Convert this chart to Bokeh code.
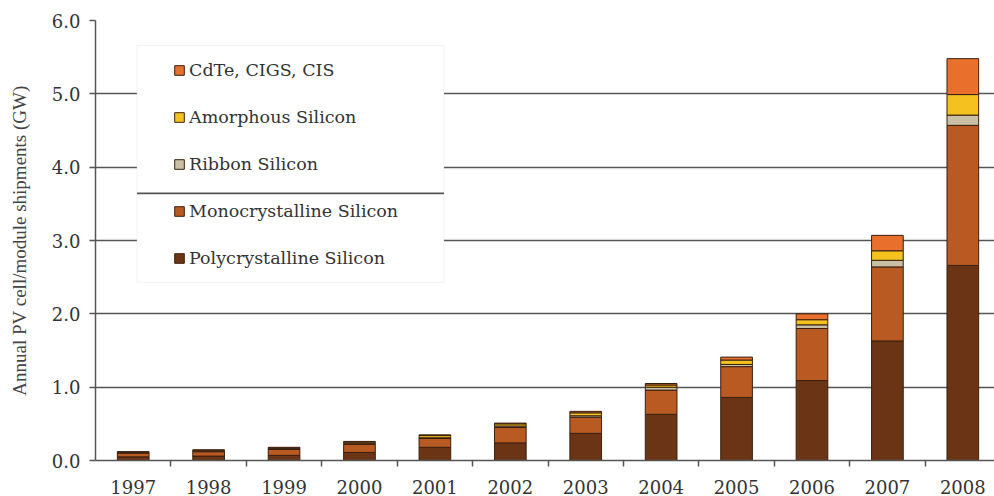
import numpy as np
from bokeh.plotting import figure
from bokeh.models import (ColumnDataSource, Range1d, FixedTicker, Legend, LegendItem,
                          BoxAnnotation, Grid)
from bokeh.embed import file_html
from bokeh.resources import INLINE

years = ["1997", "1998", "1999", "2000", "2001", "2002", "2003", "2004", "2005", "2006", "2007", "2008"]
poly = [0.05, 0.06, 0.07, 0.11, 0.18, 0.24, 0.37, 0.63, 0.86, 1.09, 1.63, 2.66]
mono = [0.05, 0.06, 0.08, 0.11, 0.12, 0.21, 0.22, 0.33, 0.42, 0.71, 1.01, 1.91]
ribbon = [0.005, 0.005, 0.01, 0.01, 0.01, 0.02, 0.02, 0.04, 0.03, 0.05, 0.09, 0.14]
amorphous = [0.01, 0.015, 0.01, 0.02, 0.03, 0.03, 0.04, 0.03, 0.06, 0.07, 0.13, 0.28]
cdte = [0.005, 0.005, 0.01, 0.01, 0.01, 0.01, 0.02, 0.02, 0.04, 0.08, 0.21, 0.49]

series = ["poly", "mono", "ribbon", "amorphous", "cdte"]
labels = {"poly": "Polycrystalline Silicon", "mono": "Monocrystalline Silicon",
          "ribbon": "Ribbon Silicon", "amorphous": "Amorphous Silicon",
          "cdte": "CdTe, CIGS, CIS"}
colors = ["#6B3414", "#B95A22", "#C9BFA4", "#F4C21E", "#E8702C"]

x = list(np.arange(len(years)) + 0.5)
src = ColumnDataSource(dict(x=x, poly=poly, mono=mono, ribbon=ribbon,
                            amorphous=amorphous, cdte=cdte))

FONT = "DejaVu Serif"

p = figure(width=994, height=496, output_backend="svg", toolbar_location=None,
           x_range=Range1d(0, 11.92), y_range=Range1d(0, 6.0),
           min_border_left=95, min_border_right=0, min_border_top=20, min_border_bottom=36)
p.outline_line_color = None
p.background_fill_color = "white"

renderers = p.vbar_stack(series, x="x", width=0.42, source=src, color=colors,
                         line_color="#3A2010", line_width=1)

# axes
p.yaxis.ticker = FixedTicker(ticks=[0, 1, 2, 3, 4, 5, 6])
p.yaxis.major_label_overrides = {i: f"{i}.0" for i in range(7)}
p.yaxis.minor_tick_line_color = None
p.yaxis.major_tick_in = 0
p.yaxis.major_tick_out = 6
p.yaxis.axis_line_color = "#555555"
p.yaxis.axis_line_width = 1.5
p.yaxis.major_tick_line_color = "#555555"
p.yaxis.major_tick_line_width = 1.5
p.yaxis.major_label_text_font = FONT
p.yaxis.major_label_text_font_size = "18px"
p.yaxis.major_label_text_color = "#333333"
p.yaxis.major_label_standoff = 9
p.yaxis.axis_label = "Annual PV cell/module shipments (GW)"
p.yaxis.axis_label_text_font = "Liberation Serif"
p.yaxis.axis_label_text_font_size = "19px"
p.yaxis.axis_label_text_font_style = "normal"
p.yaxis.axis_label_text_color = "#444444"
p.yaxis.axis_label_standoff = 19

p.xaxis.ticker = FixedTicker(ticks=x, minor_ticks=list(np.arange(1, len(years))))
p.xaxis.major_label_overrides = {xx: y for xx, y in zip(x, years)}
p.xaxis.major_tick_line_color = None
p.xaxis.minor_tick_in = 0
p.xaxis.minor_tick_out = 6
p.xaxis.minor_tick_line_color = "#555555"
p.xaxis.minor_tick_line_width = 1.5
p.xaxis.axis_line_color = "#555555"
p.xaxis.axis_line_width = 1.5
p.xaxis.major_label_text_font = FONT
p.xaxis.major_label_text_font_size = "18px"
p.xaxis.major_label_text_color = "#333333"
p.xaxis.major_label_standoff = 13

p.xgrid.grid_line_color = None
p.ygrid.ticker = FixedTicker(ticks=[1, 2, 3, 4, 5])
p.ygrid.grid_line_color = "#555555"
p.ygrid.grid_line_width = 1.3
p.add_layout(Grid(dimension=1, ticker=FixedTicker(ticks=[6]), grid_line_color="#999999",
                  grid_line_width=1.2))

# legend frame
p.add_layout(BoxAnnotation(left=0.55, right=4.62, top=5.66, bottom=2.43,
                           fill_color="white", fill_alpha=1.0,
                           line_color="#d5d5d5", line_width=1, level="annotation"))
p.add_layout(BoxAnnotation(left=0.55, right=4.62, top=3.655, bottom=3.63,
                           fill_color="#555555", fill_alpha=1.0, line_color=None,
                           level="annotation"))

order = ["cdte", "amorphous", "ribbon", "mono", "poly"]
items = [LegendItem(label=labels[s], renderers=[renderers[series.index(s)]]) for s in order]
legend = Legend(items=items, location=(78, 192), orientation="vertical",
                border_line_color=None, background_fill_alpha=0, padding=0, margin=0,
                label_text_font=FONT, label_text_font_size="17.5px", label_text_color="#333333",
                glyph_width=12, glyph_height=12, label_height=20, spacing=27,
                label_standoff=4)
p.add_layout(legend)

open("out.html", "w").write(file_html(p, INLINE))
